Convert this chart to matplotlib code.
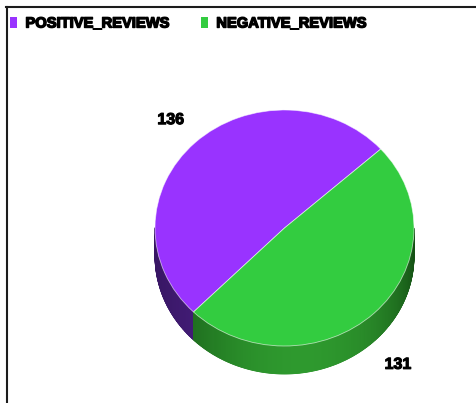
import matplotlib

matplotlib.use("Agg")

import numpy as np
import matplotlib.pyplot as plt
import matplotlib.patheffects as pe
from matplotlib.collections import PolyCollection
from matplotlib.colors import to_rgb
from matplotlib.lines import Line2D
from matplotlib.patches import Polygon

# Review counts
categories = ["POSITIVE_REVIEWS", "NEGATIVE_REVIEWS"]
counts = [136, 131]

# Palette: top face, plus dark/light ends of the side shading
_TOP = ["#9933ff", "#33cc40"]
_SIDE_DARK = ["#381664", "#134d13"]
_SIDE_LIGHT = ["#4d2289", "#2f9a2f"]
_BORDER = "#1c1c1c"
_FONT = "Liberation Sans"

_W, _H, _DPI = 476, 403, 100
_START = 42.0      # degrees, where the first slice begins
_DEPTH = 0.237     # pie thickness in radius units
_LABEL_R = 1.27


def _side_shade(dark, light, theta):
    """Blend side colour: brightest where the rim faces the viewer."""
    f = max(0.0, -np.sin(np.radians(theta - 8)))
    mix = f ** 1.6
    d, l = np.array(to_rgb(dark)), np.array(to_rgb(light))
    return tuple(d + (l - d) * mix)


fig = plt.figure(figsize=(_W / _DPI, _H / _DPI), dpi=_DPI)
ax = fig.add_axes([0, 0, 1, 1])

total = sum(counts)
edges = _START + 360.0 * np.cumsum([0] + counts) / total

# Rim of the pie: a solid band per slice, then thin shaded quads over it
polys, cols = [], []
for i in range(len(counts)):
    angles = np.linspace(edges[i], edges[i + 1], 400)
    rad = np.radians(angles)
    front = np.sin(rad) < 0
    if front.any():
        fx, fy = np.cos(rad[front]), np.sin(rad[front])
        band = np.column_stack([np.r_[fx, fx[::-1]],
                                np.r_[fy, fy[::-1] - _DEPTH]])
        ax.add_patch(Polygon(band, closed=True, facecolor=_SIDE_DARK[i],
                             edgecolor="none"))
    for t0, t1 in zip(angles[:-1], angles[1:]):
        mid = 0.5 * (t0 + t1)
        if np.sin(np.radians(mid)) >= 0:
            continue
        x0, y0 = np.cos(np.radians(t0)), np.sin(np.radians(t0))
        x1, y1 = np.cos(np.radians(t1)), np.sin(np.radians(t1))
        polys.append([(x0, y0), (x1, y1), (x1, y1 - _DEPTH), (x0, y0 - _DEPTH)])
        cols.append(_side_shade(_SIDE_DARK[i], _SIDE_LIGHT[i], mid))
ax.add_collection(PolyCollection(polys, facecolors=cols, edgecolors=cols,
                                 linewidths=0.6))

# Top face
wedges, _ = ax.pie(
    counts,
    colors=_TOP,
    startangle=_START,
    counterclock=True,
    wedgeprops={"edgecolor": (1, 1, 1, 0.6), "linewidth": 0.6},
)

# Value labels outside each slice
for i, n in enumerate(counts):
    mid = np.radians(0.5 * (edges[i] + edges[i + 1]))
    lx, ly = _LABEL_R * np.cos(mid), _LABEL_R * np.sin(mid)
    if ly < 0:
        ly -= _DEPTH
    ax.text(lx, ly, str(n), ha="center", va="center", family=_FONT,
            weight="bold", fontsize=11.5, color="black",
            path_effects=[pe.withStroke(linewidth=0.8, foreground="black")])

# Pixel-true scaling: x and y radii differ so the pie sits tilted
cx, cy, rx, ry = 284.5, _H - 228.0, 129.5, 118.0
ax.set_aspect("auto")
ax.set_xlim(-cx / rx, (_W - cx) / rx)
ax.set_ylim(-cy / ry, (_H - cy) / ry)
ax.axis("off")

leg = ax.legend(
    wedges, categories,
    ncol=2,
    loc="upper left",
    bbox_to_anchor=(10 / _W, 1 - 16.5 / _H),
    bbox_transform=fig.transFigure,
    frameon=False,
    prop={"family": _FONT, "weight": "bold", "size": 10.6},
    handlelength=0.5,
    handleheight=0.75,
    handletextpad=0.55,
    columnspacing=2.1,
    borderpad=0,
    borderaxespad=0,
)
for h in leg.legend_handles:
    h.set_edgecolor("none")
for t in leg.get_texts():
    t.set_path_effects([pe.withStroke(linewidth=1.0, foreground="black")])

# Frame lines along the top and left edges
fig.add_artist(Line2D([6 / _W, 1], [1 - 6.5 / _H] * 2, transform=fig.transFigure,
                      color=_BORDER, lw=1.5))
fig.add_artist(Line2D([6.5 / _W] * 2, [0, 1 - 6.5 / _H], transform=fig.transFigure,
                      color=_BORDER, lw=1.5))

fig.savefig("out.png", dpi=_DPI, facecolor="white")
